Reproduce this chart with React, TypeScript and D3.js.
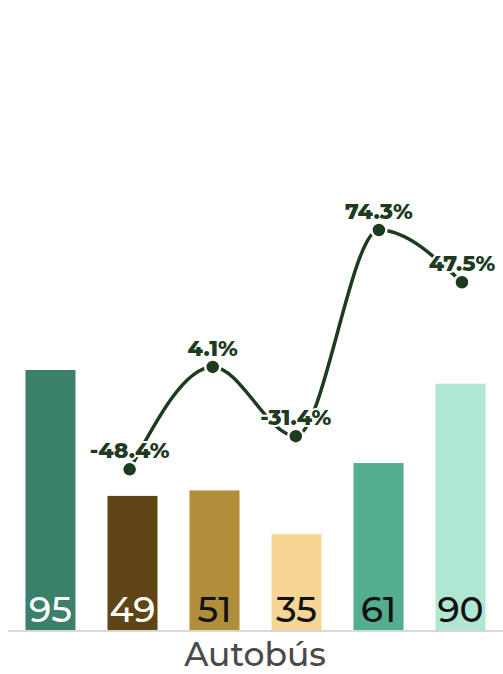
import React from "react";
import * as d3 from "d3";

const categories = ["c1", "c2", "c3", "c4", "c5", "c6"];
const barValues = [95, 49, 51, 35, 61, 90];
const growth: (number | null)[] = [null, -48.4, 4.1, -31.4, 74.3, 47.5];
const barColors = ["#3b806b", "#5f4515", "#b28e3a", "#f7d595", "#52ae8f", "#b0e7d2"];
const valueTextColors = ["#ffffff", "#ffffff", "#111111", "#111111", "#111111", "#111111"];
const axisLabel = "Autobús";

const W = 503;
const H = 674;
const baseY = 630;
const FONT = "Montserrat, 'DejaVu Sans', sans-serif";

export default function App() {
  const x = d3
    .scaleBand<string>()
    .domain(categories)
    .range([8, 503])
    .paddingInner(0.39)
    .paddingOuter(0.213);
  const xl = d3.scalePoint<string>().domain(categories).range([5, 503.5]).padding(0.5);
  const y = d3.scaleLinear().domain([0, 95]).range([baseY, 370]);
  const y2 = d3.scaleLinear().domain([-48.4, 74.3]).range([469.3, 230]);

  const pts = categories
    .map((c, i) => ({ c, v: growth[i] }))
    .filter((d) => d.v !== null) as { c: string; v: number }[];
  const line = d3
    .line<{ c: string; v: number }>()
    .x((d) => xl(d.c)!)
    .y((d) => y2(d.v))
    .curve(d3.curveMonotoneX);

  return (
    <svg
      width={W}
      height={H}
      style={{ position: "absolute", left: 0, top: 0, background: "#fff" }}
    >
      {categories.map((c, i) => (
        <rect
          key={c}
          x={x(c)}
          y={y(barValues[i])}
          width={x.bandwidth()}
          height={baseY - y(barValues[i])}
          fill={barColors[i]}
        />
      ))}
      {categories.map((c, i) => (
        <text
          key={"v" + c}
          x={x(c)! + x.bandwidth() / 2}
          y={622}
          textAnchor="middle"
          fontFamily={FONT}
          fontSize={36}
          fontWeight={500}
          fill={valueTextColors[i]}
        >
          {barValues[i]}
        </text>
      ))}
      <line x1={8} x2={503} y1={631} y2={631} stroke="#d9d9d9" strokeWidth={2} />
      <text
        x={255}
        y={666}
        textAnchor="middle"
        fontFamily={FONT}
        fontSize={33}
        fontWeight={500}
        fill="#4a4a4a"
      >
        {axisLabel}
      </text>
      <path d={line(pts) || ""} fill="none" stroke="#1d3b1f" strokeWidth={3.5} />
      {pts.map((d) => (
        <circle
          key={"d" + d.c}
          cx={xl(d.c)}
          cy={y2(d.v)}
          r={7.5}
          fill="#1d3b1f"
          stroke="#ffffff"
          strokeWidth={2.5}
        />
      ))}
      {pts.map((d) => (
        <text
          key={"t" + d.c}
          x={xl(d.c)}
          y={y2(d.v) - 11}
          textAnchor="middle"
          fontFamily={FONT}
          fontSize={22}
          fontWeight={800}
          fill="#1d3b1f"
          stroke="#ffffff"
          strokeWidth={4}
          paintOrder="stroke"
          strokeLinejoin="round"
        >
          {d.v + "%"}
        </text>
      ))}
    </svg>
  );
}
